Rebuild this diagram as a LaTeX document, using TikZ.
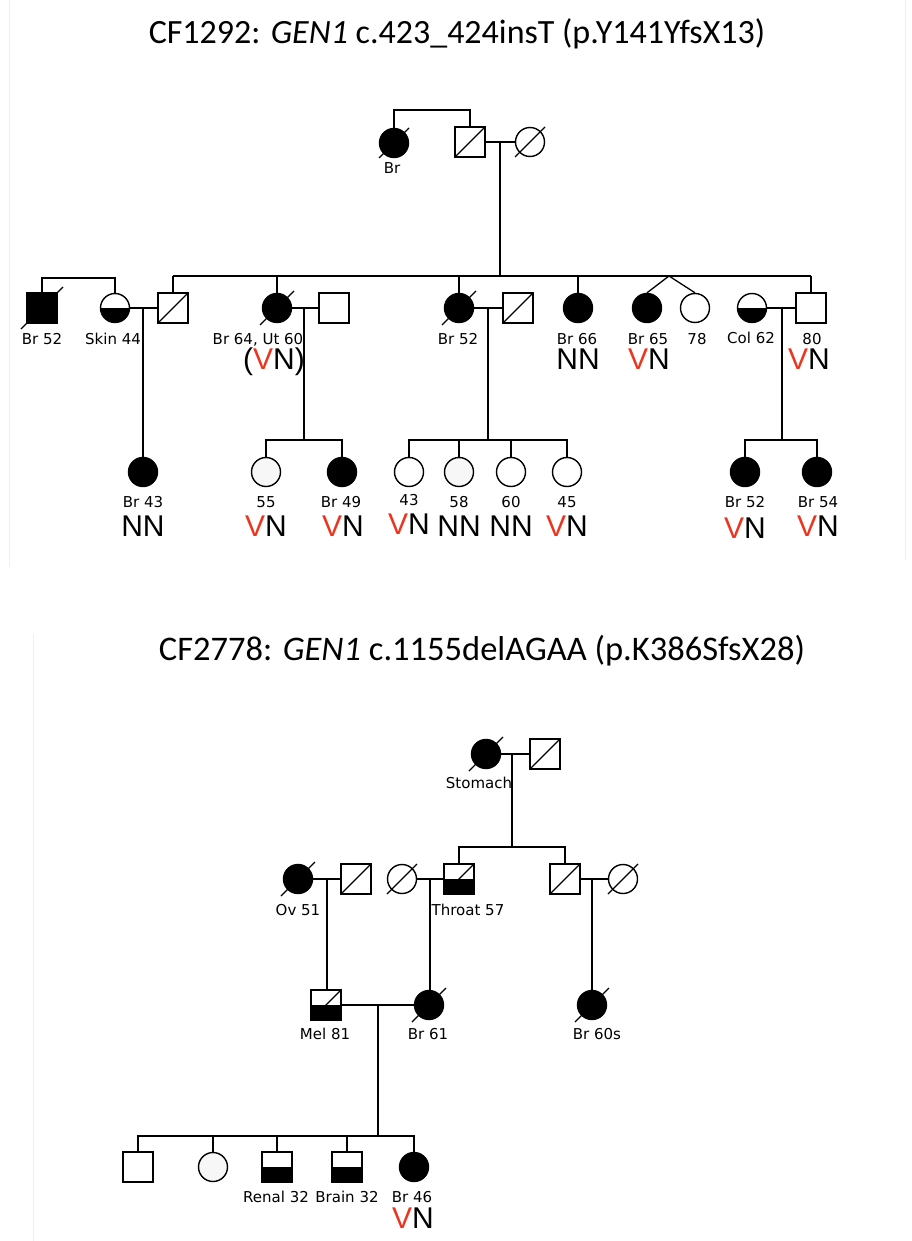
\documentclass[tikz,border=0pt]{standalone}
\usepackage{fontspec}
\setmainfont{DejaVu Sans}
\newfontfamily\titlefont{Carlito}
\newfontfamily\gfont{Liberation Sans}
\definecolor{vred}{RGB}{236,52,30}
\newcommand{\dslash}[2]{\draw[conn] ([shift={(-#2,#2)}]#1.center) -- ([shift={(#2,-#2)}]#1.center);}
\newcommand{\VN}{\textcolor{vred}{V}N}
\begin{document}
\begin{tikzpicture}[x=1pt,y=-1pt,
  conn/.style={line width=1.3pt},
  fem/.style={circle, draw, line width=1.4pt, minimum size=29pt, inner sep=0pt},
  mal/.style={rectangle, draw, line width=1.4pt, minimum size=30pt, inner sep=0pt},
  aff/.style={fill=black},
  half/.style={path picture={\fill[black] (path picture bounding box.west) rectangle (path picture bounding box.south east);}},
  lab/.style={font=\fontsize{15}{15}\selectfont, anchor=base, inner sep=0pt},
  geno/.style={font=\gfont\fontsize{30}{30}\selectfont, anchor=base, inner sep=0pt},
  ttl/.style={font=\titlefont\fontsize{34}{34}\selectfont, anchor=base, inner sep=0pt},
  panel/.style={draw=black!6, line width=1pt}]
\useasboundingbox (0,0) rectangle (912,1241);
\draw[panel] (9,0) -- (9,567);
\draw[panel] (905,0) -- (905,560);
\draw[panel] (33,634) -- (33,1241);

% ---------------- Titles
\node[ttl] (t1) at (457,44) {CF1292: \textit{GEN1} c.423\_424insT (p.Y141YfsX13)};
\node[ttl] (t2) at (482,660) {\fontsize{34.5}{34.5}\selectfont CF2778: \textit{GEN1} c.1155delAGAA (p.K386SfsX28)};

% ================= Pedigree 1
% Generation I
\node[fem,aff] (a1) at (394,143) {};
\node[mal] (a2) at (470,142) {};
\node[fem] (a3) at (530,142) {};
\dslash{a1}{15}\dslash{a2}{15}\dslash{a3}{15}
\node[lab] (la1) at (392,174) {Br};
\coordinate (k1) at (432,110);
\draw[conn] (a1.north) |- (k1) -| (a2.north);
\draw[conn] (a2.east) -- (a3.west);
\coordinate (m1) at (500,142);
\coordinate (sL) at (173,276);
\coordinate (sR) at (811,276);
\draw[conn] (m1) -- (m1 |- sL);
\draw[conn] (sL) -- (sR);

% Generation II
\node[mal,aff] (b1) at (42,308) {};
\node[fem,half] (b2) at (115,308) {};
\node[mal] (b3) at (173,308) {};
\node[fem,aff] (b4) at (277,308) {};
\node[mal] (b5) at (334,308) {};
\node[fem,aff] (b6) at (459,308) {};
\node[mal] (b7) at (518,308) {};
\node[fem,aff] (b8) at (578,308) {};
\node[fem,aff] (b9) at (647,308) {};
\node[fem] (b10) at (695,308) {};
\node[fem,half] (b11) at (752,308) {};
\node[mal] (b12) at (811,308) {};
\dslash{b1}{21}\dslash{b3}{15}\dslash{b4}{17}\dslash{b6}{17}\dslash{b7}{15}

\coordinate (k2) at (78,278);
\draw[conn] (b1.north) |- (k2) -| (b2.north);
\draw[conn] (b2.east) -- (b3.west);
\draw[conn] (b3.north) -- (b3.north |- sL);
\draw[conn] (b4.north) -- (b4.north |- sL);
\draw[conn] (b4.east) -- (b5.west);
\draw[conn] (b6.north) -- (b6.north |- sL);
\draw[conn] (b6.east) -- (b7.west);
\draw[conn] (b8.north) -- (b8.north |- sL);
\coordinate (tw) at (669,276);
\draw[conn] (tw) -- (b9.north);
\draw[conn] (tw) -- (b10.north);
\draw[conn] (b12.north) -- (sR);
\draw[conn] (b11.east) -- (b12.west);

\node[lab] (lb1) at (42,344) {Br 52};
\node[lab] (lb2) at (113,344) {Skin 44};
\node[lab] (lb4) at (258,344) {Br 64, Ut 60};
\node[lab] (lb6) at (458,344) {Br 52};
\node[lab] (lb8) at (577,344) {Br 66};
\node[lab] (lb9) at (648,344) {Br 65};
\node[lab] (lb10) at (697,344) {78};
\node[lab] (lb11) at (751,343) {Col 62};
\node[lab] (lb12) at (812,344) {80};
\node[geno] (gb4) at (274,369) {(\VN)};
\node[geno] (gb8) at (578,369) {NN};
\node[geno] (gb9) at (649,369) {\VN};
\node[geno] (gb12) at (809,369) {\VN};

% Generation III
\node[fem,aff] (c1) at (143,472) {};
\node[fem,fill=black!3] (c2) at (266,472) {};
\node[fem,aff] (c3) at (342,472) {};
\node[fem] (c4) at (409,472) {};
\node[fem,fill=black!3] (c5) at (459,472) {};
\node[fem] (c6) at (511,472) {};
\node[fem] (c7) at (567,472) {};
\node[fem,aff] (c8) at (745,472) {};
\node[fem,aff] (c9) at (817,472) {};

\coordinate (m2) at (143,308);
\draw[conn] (m2) -- (c1.north);
\coordinate (m3) at (304,308);
\coordinate (s3) at (304,440);
\draw[conn] (m3) -- (s3);
\draw[conn] (c2.north) -- (c2.north |- s3) -- (c3.north |- s3) -- (c3.north);
\coordinate (m4) at (488,308);
\coordinate (s4) at (488,440);
\draw[conn] (m4) -- (s4);
\draw[conn] (c4.north) -- (c4.north |- s4) -- (c7.north |- s4) -- (c7.north);
\draw[conn] (c5.north) -- (c5.north |- s4);
\draw[conn] (c6.north) -- (c6.north |- s4);
\coordinate (m5) at (782,308);
\coordinate (s5) at (782,440);
\draw[conn] (m5) -- (s5);
\draw[conn] (c8.north) -- (c8.north |- s5) -- (c9.north |- s5) -- (c9.north);

\node[lab] (lc1) at (143,507) {Br 43};
\node[lab] (lc2) at (266,507) {55};
\node[lab] (lc3) at (341,507) {Br 49};
\node[lab] (lc4) at (409,505) {43};
\node[lab] (lc5) at (459,507) {58};
\node[lab] (lc6) at (511,507) {60};
\node[lab] (lc7) at (567,507) {45};
\node[lab] (lc8) at (745,507) {Br 52};
\node[lab] (lc9) at (818,507) {Br 54};
\node[geno] (gc1) at (143,536) {NN};
\node[geno] (gc2) at (266,536) {\VN};
\node[geno] (gc3) at (343,536) {\VN};
\node[geno] (gc4) at (409,534) {\VN};
\node[geno] (gc5) at (459,536) {NN};
\node[geno] (gc6) at (511,536) {NN};
\node[geno] (gc7) at (567,536) {\VN};
\node[geno] (gc8) at (745,538) {\VN};
\node[geno] (gc9) at (818,536) {\VN};

% ================= Pedigree 2
% Generation I
\node[fem,aff] (d1) at (486,754) {};
\node[mal] (d2) at (545,754) {};
\dslash{d1}{17}\dslash{d2}{15}
\draw[conn] (d1.east) -- (d2.west);
\node[lab] (ld1) at (479,788) {Stomach};
\coordinate (n1) at (512,754);
\coordinate (q1) at (512,847);
\draw[conn] (n1) -- (q1);

% Generation II
\node[fem,aff] (e1) at (298,879) {};
\node[mal] (e2) at (356,879) {};
\node[fem] (e3) at (402,879) {};
\node[mal,half] (e4) at (459,879) {};
\node[mal] (e5) at (565,879) {};
\node[fem] (e6) at (623,879) {};
\dslash{e1}{17}\dslash{e2}{15}\dslash{e3}{15}\dslash{e4}{15}\dslash{e5}{15}\dslash{e6}{15}
\draw[conn] (e4.north) -- (e4.north |- q1) -- (e5.north |- q1) -- (e5.north);
\draw[conn] (e1.east) -- (e2.west);
\draw[conn] (e3.east) -- (e4.west);
\draw[conn] (e5.east) -- (e6.west);
\node[lab] (le1) at (298,915) {Ov 51};
\node[lab] (le4) at (468,915) {Throat 57};

% Generation III
\node[mal,half] (f1) at (326,1005) {};
\node[fem,aff] (f2) at (429,1005) {};
\node[fem,aff] (f3) at (592,1005) {};
\dslash{f1}{15}\dslash{f2}{17}\dslash{f3}{17}
\coordinate (n2) at (327,879);
\draw[conn] (n2) -- (n2 |- f1.north);
\coordinate (n3) at (430,879);
\draw[conn] (n3) -- (n3 |- f2.north);
\coordinate (n4) at (592,879);
\draw[conn] (n4) -- (f3.north);
\draw[conn] (f1.east) -- (f2.west);
\node[lab] (lf1) at (325,1039) {Mel 81};
\node[lab] (lf2) at (428,1039) {Br 61};
\node[lab] (lf3) at (597,1039) {Br 60s};
\coordinate (n5) at (378,1005);
\coordinate (q2) at (378,1136);
\draw[conn] (n5) -- (q2);

% Generation IV
\node[mal] (g1) at (138,1167) {};
\node[fem,fill=black!3] (g2) at (213,1167) {};
\node[mal,half] (g3) at (277,1167) {};
\node[mal,half] (g4) at (347,1167) {};
\node[fem,aff] (g5) at (414,1167) {};
\draw[conn] (g1.north) -- (g1.north |- q2) -- (g5.north |- q2) -- (g5.north);
\draw[conn] (g2.north) -- (g2.north |- q2);
\draw[conn] (g3.north) -- (g3.north |- q2);
\draw[conn] (g4.north) -- (g4.north |- q2);
\node[lab] (lg3) at (276,1202) {Renal 32};
\node[lab] (lg4) at (347,1202) {Brain 32};
\node[lab] (lg5) at (412,1202) {Br 46};
\node[geno] (gg5) at (413,1228) {\VN};
\end{tikzpicture}
\end{document}
